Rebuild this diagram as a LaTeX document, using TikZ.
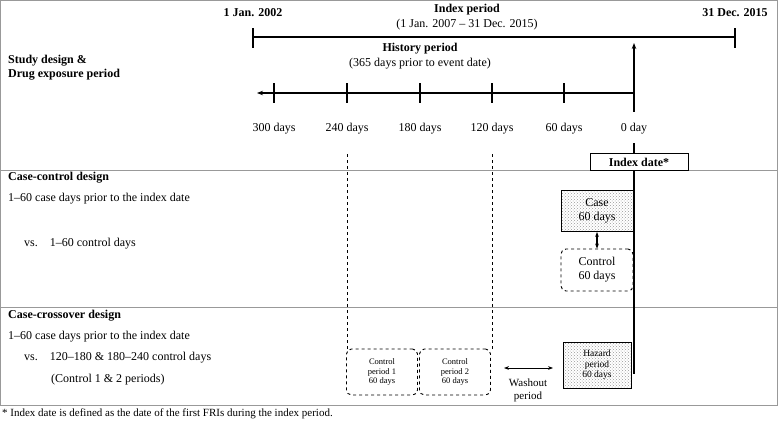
\documentclass[tikz,border=0pt]{standalone}
\usepackage{fontspec}
\setmainfont{Liberation Serif}
\usetikzlibrary{patterns,arrows.meta}
\begin{document}
\begin{tikzpicture}[x=1pt,y=-1pt,font=\fontsize{12}{14}\selectfont,
  lbl/.style={anchor=west,inner sep=0},
  ctr/.style={inner sep=0,align=center},
  bf/.style={font=\fontsize{12}{14}\selectfont\bfseries},
  thick2/.style={line width=1.6pt},
  hatch/.style={draw,line width=1pt,pattern=crosshatch dots,pattern color=gray!80},
  dbox/.style={draw,dashed,line width=0.9pt,rounded corners=5pt}]
\useasboundingbox (0,0) rectangle (778,423);
\draw[gray!80,line width=0.8pt] (0.5,0.5) rectangle (777.5,405);
\draw[gray!80,line width=0.8pt] (0,170) -- (778,170);
\draw[gray!80,line width=0.8pt] (0,307) -- (778,307);
% top
\coordinate (tl) at (253,37); \coordinate (tr) at (735,37);
\draw[thick2] (tl) -- (tr);
\draw[thick2] (253,28) -- (253,48);
\draw[thick2] (735,28) -- (735,48);
\node[ctr,bf] (a) at (253,13) {1 Jan. 2002};
\node[ctr,bf] (b) at (735,13) {31 Dec. 2015};
\node[ctr,bf] (c) at (467,10) {Index period};
\node[ctr] (d) at (467,25) {(1 Jan. 2007 -- 31 Dec. 2015)};
\node[ctr,bf] (e) at (420,49) {History period};
\node[ctr] (f) at (420,64) {(365 days prior to event date)};
\node[lbl,bf,align=left] (g) at (8,68) {Study design \&\\Drug exposure period};
% timeline
\coordinate (t0) at (634,93);
\coordinate (tend) at (257,93);
\draw[thick2,-{Stealth[length=6pt]}] (t0) -- (tend);
\foreach \x/\t in {274/300 days,347/240 days,420/180 days,492/120 days,564/60 days,634/0 day}{
  \draw[thick2] (\x,83) -- (\x,103);
  \node[ctr] at (\x,129) {\t};}
\coordinate (itop) at (634,43);
\draw[thick2,-{Stealth[length=6pt]}] (t0) -- (itop);
\draw[thick2] (634,93) -- (634,112);
\draw[thick2] (634,143) -- (634,374);
\node[draw,line width=0.9pt,fill=white,minimum width=98pt,minimum height=17pt,bf] (idx) at (639,162) {Index date*};
% dashed
\draw[dashed] (347,154) -- (347,350);
\draw[dashed] (492,154) -- (492,350);
% case-control
\node[lbl,bf] at (8,178) {Case-control design};
\node[lbl] at (8,199) {1--60 case days prior to the index date};
\node[lbl] at (24,244) {vs.\quad 1--60 control days};
\node[hatch,minimum width=72pt,minimum height=41pt,ctr] (case) at (597,211) {Case\\60 days};
\node[dbox,fill=white,minimum width=72pt,minimum height=42pt,ctr] (ctrl) at (597,270) {Control\\60 days};
\draw[line width=1.2pt,{Stealth[length=5pt]}-{Stealth[length=5pt]}] (case) -- (ctrl);
\draw[thick2] (634,170) -- (634,374);
% crossover
\node[lbl,bf] at (8,316) {Case-crossover design};
\node[lbl] at (8,337) {1--60 case days prior to the index date};
\node[lbl] at (24,358) {vs.\quad 120--180 \& 180--240 control days};
\node[lbl] at (51,380) {(Control 1 \& 2 periods)};
\node[dbox,minimum width=71pt,minimum height=46pt,ctr,font=\fontsize{8.5}{9.5}\selectfont] (c1) at (382,372) {Control\\period 1\\60 days};
\node[dbox,minimum width=71pt,minimum height=46pt,ctr,font=\fontsize{8.5}{9.5}\selectfont] (c2) at (455,372) {Control\\period 2\\60 days};
\coordinate (w1) at (504,368); \coordinate (w2) at (553,368);
\draw[line width=1pt,{Stealth[length=5pt]}-{Stealth[length=5pt]}] (w1) -- (w2);
\node[ctr,font=\fontsize{11}{13}\selectfont] (wo) at (528,390) {Washout\\period};
\node[hatch,minimum width=68pt,minimum height=46pt,ctr,font=\fontsize{9.5}{10.5}\selectfont] (haz) at (597,365) {Hazard\\period\\60 days};
\node[lbl,font=\fontsize{11}{13}\selectfont] at (2,414) {* Index date is defined as the date of the first FRIs during the index period.};
\end{tikzpicture}
\end{document}
